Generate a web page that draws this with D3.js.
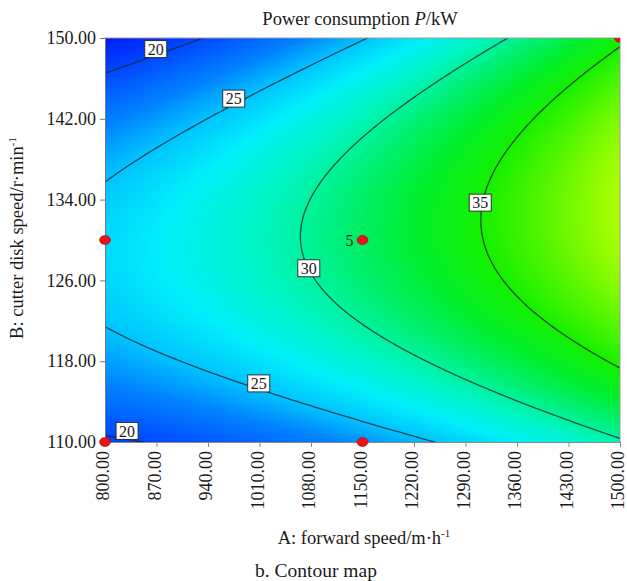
<!DOCTYPE html>
<html>
<head>
<meta charset="utf-8">
<script src="https://cdn.jsdelivr.net/npm/d3@7"></script>
<style>
  html, body { margin: 0; padding: 0; background: #fff; }
  svg { display: block; }
  text { font-family: "Liberation Serif", "Times New Roman", serif; fill: #1a1a1a; }
</style>
</head>
<body>
<script>
// ---------------- data ----------------
// Fitted quadratic response surface in coded units:
// A = (speed - 1150) / 350, B = (disk speed - 130) / 20
const modelTerms = ["intercept", "A", "B", "AB", "A2", "B2"];
const modelCoefficients = [31.57, 6.79, 0.67, 1.72, 1.13, -7.40];
const xCenter = 1150, xHalfRange = 350;
const yCenter = 130, yHalfRange = 20;

const xTicks = [800, 870, 940, 1010, 1080, 1150, 1220, 1290, 1360, 1430, 1500];
const yTicks = [110, 118, 126, 134, 142, 150];

const contourLevels = [20, 25, 30, 35];

// contour label anchors (level and location in data units)
const labelLevels = [20, 25, 30, 35, 25, 20];
const labelX = [869, 975, 1077, 1310, 1009, 830];
const labelY = [148.9, 144.0, 127.2, 133.7, 115.8, 111.1];

// design points
const designX = [800, 800, 1150, 1150, 1500];
const designY = [130, 110, 130, 110, 150];
const designReplicates = [1, 1, 5, 1, 1];

// ---------------- layout ----------------
const W = 627, H = 581;
const plot = { left: 105, top: 38, width: 515, height: 404 };
const serif = "Liberation Serif, Times New Roman, serif";

function response(x, y) {
  const A = (x - xCenter) / xHalfRange, B = (y - yCenter) / yHalfRange;
  const c = modelCoefficients;
  return c[0] + c[1] * A + c[2] * B + c[3] * A * B + c[4] * A * A + c[5] * B * B;
}

const xScale = d3.scaleLinear().domain([800, 1500]).range([0, plot.width]);
const yScale = d3.scaleLinear().domain([110, 150]).range([plot.height, 0]);

const color = d3.scaleLinear()
  .domain([17.4, 20, 23, 25, 27, 29, 31, 33, 35, 37, 39.5])
  .range(["rgb(0,25,245)", "rgb(0,70,255)", "rgb(0,130,255)", "rgb(0,195,255)",
          "rgb(0,240,250)", "rgb(0,245,195)", "rgb(0,240,120)", "rgb(0,238,45)",
          "rgb(20,240,0)", "rgb(85,246,0)", "rgb(170,255,0)"])
  .clamp(true);

const svg = d3.select("body").append("svg").attr("width", W).attr("height", H)
  .attr("font-family", serif);

svg.append("defs").append("clipPath").attr("id", "plotClip")
  .append("rect").attr("width", plot.width).attr("height", plot.height);
svg.select("defs").append("clipPath").attr("id", "dotClip")
  .append("rect").attr("x", -20).attr("y", 0).attr("width", plot.width + 20).attr("height", plot.height + 20);

const g = svg.append("g").attr("transform", `translate(${plot.left},${plot.top})`);

// ---------------- colour field ----------------
const canvas = document.createElement("canvas");
canvas.width = plot.width; canvas.height = plot.height;
const ctx = canvas.getContext("2d");
const img = ctx.createImageData(plot.width, plot.height);
for (let py = 0; py < plot.height; py++) {
  const yv = yScale.invert(py + 0.5);
  for (let px = 0; px < plot.width; px++) {
    const xv = xScale.invert(px + 0.5);
    const c = d3.rgb(color(response(xv, yv)));
    const k = (py * plot.width + px) * 4;
    img.data[k] = c.r; img.data[k + 1] = c.g; img.data[k + 2] = c.b; img.data[k + 3] = 255;
  }
}
ctx.putImageData(img, 0, 0);
g.append("image").attr("width", plot.width).attr("height", plot.height)
  .attr("preserveAspectRatio", "none")
  .attr("href", canvas.toDataURL());

// ---------------- contour lines ----------------
const gx0 = 790, gdx = 3.5, gnx = 207;
const gy0 = 109, gdy = 0.25, gny = 169;
const values = new Array(gnx * gny);
for (let j = 0; j < gny; j++)
  for (let i = 0; i < gnx; i++)
    values[j * gnx + i] = response(gx0 + i * gdx, gy0 + j * gdy);

const contours = d3.contours().size([gnx, gny]).thresholds(contourLevels)(values);
const toPx = (cx, cy) => [xScale(gx0 + (cx - 0.5) * gdx), yScale(gy0 + (cy - 0.5) * gdy)];
const path = d3.geoPath(d3.geoTransform({
  point: function (x, y) { const p = toPx(x, y); this.stream.point(p[0], p[1]); }
}));

const lines = g.append("g").attr("clip-path", "url(#plotClip)");
lines.selectAll("path").data(contours).join("path")
  .attr("d", path)
  .attr("fill", "none")
  .attr("stroke", "rgba(20,40,45,0.8)")
  .attr("stroke-width", 1.3);

// ---------------- contour labels ----------------
const labelG = g.append("g");
labelLevels.forEach((lv, idx) => {
  const lx = xScale(labelX[idx]), ly = yScale(labelY[idx]);
  const lg = labelG.append("g").attr("transform", `translate(${lx},${ly})`);
  lg.append("rect").attr("x", -11).attr("y", -8.5).attr("width", 22).attr("height", 17)
    .attr("fill", "#fff").attr("stroke", "#222").attr("stroke-width", 0.9);
  lg.append("text").attr("text-anchor", "middle").attr("dy", "0.36em")
    .attr("font-size", 16).text(lv);
});

// ---------------- frame ----------------
g.append("line").attr("x1", 0).attr("x2", plot.width).attr("y1", 0).attr("y2", 0)
  .attr("stroke", "#9a9a9a").attr("stroke-width", 1);
g.append("line").attr("x1", plot.width).attr("x2", plot.width).attr("y1", 0).attr("y2", plot.height)
  .attr("stroke", "#9a9a9a").attr("stroke-width", 1);

// ---------------- axes ----------------
const yAxis = g.append("g")
  .call(d3.axisLeft(yScale).tickValues(yTicks).tickFormat(d3.format(".2f")).tickSize(5).tickPadding(4))
  .attr("font-family", serif).attr("font-size", 18);
yAxis.selectAll("text").attr("font-family", serif).attr("font-size", 18).attr("fill", "#1a1a1a");
yAxis.select(".domain").attr("stroke", "#777");
yAxis.selectAll(".tick line").attr("stroke", "#777");

const xAxis = g.append("g").attr("transform", `translate(0,${plot.height})`)
  .call(d3.axisBottom(xScale).tickValues(xTicks).tickFormat(d3.format(".2f")).tickSize(5))
  .attr("font-family", serif).attr("font-size", 18);
xAxis.selectAll("text")
  .attr("font-family", serif).attr("font-size", 18).attr("fill", "#1a1a1a")
  .attr("transform", "rotate(-90)")
  .attr("text-anchor", "end")
  .attr("x", -9).attr("y", 0).attr("dy", "0.2em");
xAxis.select(".domain").attr("stroke", "#888");
xAxis.selectAll(".tick line").attr("stroke", "#888");

// ---------------- design points ----------------
const dots = g.append("g").attr("clip-path", "url(#dotClip)");
designX.forEach((dx, i) => {
  dots.append("ellipse")
    .attr("cx", xScale(dx)).attr("cy", yScale(designY[i]))
    .attr("rx", 5.5).attr("ry", 4.5)
    .attr("fill", "#e8141b").attr("stroke", "#b00000").attr("stroke-width", 0.5);
  if (designReplicates[i] > 1) {
    g.append("text").attr("x", xScale(dx) - 9).attr("y", yScale(designY[i]))
      .attr("dy", "0.35em").attr("text-anchor", "end").attr("font-size", 16)
      .text(designReplicates[i]);
  }
});

// ---------------- titles ----------------
const title = svg.append("text").attr("x", 360).attr("y", 25)
  .attr("text-anchor", "middle").attr("font-size", 18.5);
title.append("tspan").text("Power consumption ");
title.append("tspan").attr("font-style", "italic").text("P");
title.append("tspan").text("/kW");

const xt = svg.append("text").attr("x", 364).attr("y", 544)
  .attr("text-anchor", "middle").attr("font-size", 18.5);
xt.append("tspan").text("A: forward speed/m·h");
xt.append("tspan").attr("font-size", 11).attr("dy", -7).text("-1");

const yt = svg.append("text")
  .attr("transform", `translate(23,${238}) rotate(-90)`)
  .attr("text-anchor", "middle").attr("font-size", 18.5);
yt.append("tspan").text("B: cutter disk speed/r·min");
yt.append("tspan").attr("font-size", 11).attr("dy", -7).text("-1");

svg.append("text").attr("x", 316).attr("y", 577)
  .attr("text-anchor", "middle").attr("font-size", 19.5).text("b. Contour map");
</script>
</body>
</html>
